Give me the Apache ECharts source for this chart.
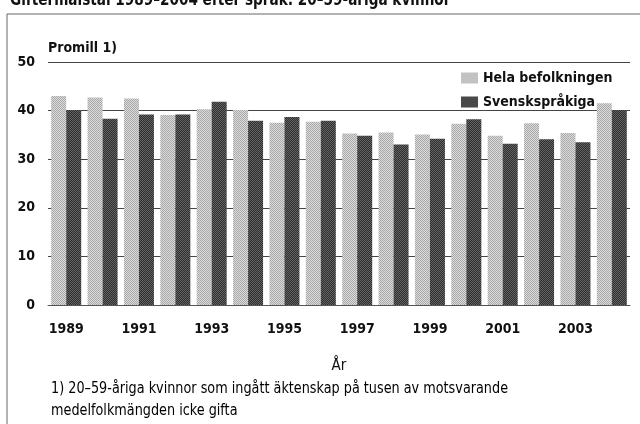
<!DOCTYPE html>
<html>
<head>
<meta charset="utf-8">
<script src="https://cdn.jsdelivr.net/npm/echarts@6/dist/echarts.min.js"></script>
<style>
  html, body { margin: 0; padding: 0; background: #fff; }
  #chart { width: 640px; height: 424px; }
</style>
</head>
<body>
<div id="chart"></div>
<script>
const years = ['1989', '1990', '1991', '1992', '1993', '1994', '1995', '1996',
  '1997', '1998', '1999', '2000', '2001', '2002', '2003', '2004']
const hela = [43.0, 42.7, 42.5, 39.1, 40.3, 40.1, 37.5, 37.7,
  35.3, 35.5, 35.1, 37.3, 34.8, 37.4, 35.4, 41.5]
const svensk = [40.1, 38.3, 39.2, 39.2, 41.8, 37.9, 38.7, 37.9,
  34.8, 33.0, 34.2, 38.2, 33.2, 34.1, 33.5, 40.1]
const yTicks = [0, 10, 20, 30, 40, 50]

const font = '"Liberation Sans Narrow", "DejaVu Sans Condensed", "Roboto", sans-serif'

// small checker textures to imitate the printed raster
const makePattern = (a, b) => {
  const c = document.createElement('canvas')
  c.width = 2
  c.height = 2
  const ctx = c.getContext('2d')
  ctx.fillStyle = a
  ctx.fillRect(0, 0, 2, 2)
  ctx.fillStyle = b
  ctx.fillRect(0, 0, 1, 1)
  ctx.fillRect(1, 1, 1, 1)
  return { image: c, repeat: 'repeat' }
}
const lightFill = makePattern('#dcdcdc', '#a8a8a8')
const darkFill = makePattern('#2e2e2e', '#646464')

const chart = echarts.init(document.getElementById('chart'))

chart.setOption({
  backgroundColor: '#fff',
  animation: false,
  legend: {
    orient: 'vertical',
    left: 456,
    top: 66,
    icon: 'rect',
    itemWidth: 17,
    itemHeight: 11,
    itemGap: 10,
    textStyle: { fontFamily: font, fontSize: 14, fontWeight: 'bold', color: '#111' },
    data: ['Hela befolkningen', 'Svenskspråkiga']
  },
  grid: { left: 48, right: 10, top: 62, bottom: 119 },
  xAxis: {
    type: 'category',
    data: years,
    name: 'År',
    nameLocation: 'middle',
    nameGap: 54,
    nameTextStyle: { fontFamily: font, fontSize: 15, color: '#111' },
    axisLine: { lineStyle: { color: '#555', width: 1 } },
    axisTick: { show: false },
    axisLabel: {
      interval: 1,
      margin: 17,
      fontFamily: font,
      fontSize: 14,
      fontWeight: 'bold',
      color: '#111'
    }
  },
  yAxis: {
    type: 'value',
    min: yTicks[0],
    max: yTicks[yTicks.length - 1],
    interval: 10,
    name: 'Promill 1)',
    nameLocation: 'end',
    nameGap: 7,
    nameTextStyle: { fontFamily: font, fontSize: 14, fontWeight: 'bold', color: '#111', align: 'left' },
    axisLine: { show: false },
    axisTick: { show: false },
    axisLabel: { margin: 13, fontFamily: font, fontSize: 14, fontWeight: 'bold', color: '#111' },
    splitLine: { lineStyle: { color: '#444', width: 1 } }
  },
  series: [
    {
      name: 'Hela befolkningen',
      type: 'bar',
      data: hela,
      barWidth: 15,
      barGap: '0%',
      itemStyle: { color: lightFill }
    },
    {
      name: 'Svenskspråkiga',
      type: 'bar',
      data: svensk,
      barWidth: 15,
      itemStyle: { color: darkFill }
    }
  ],
  graphic: [
    {
      type: 'rect',
      shape: { x: 7, y: 14, width: 640, height: 420 },
      style: { fill: 'none', stroke: '#666', lineWidth: 1 },
      silent: true
    },
    {
      // heading, cut off at the top edge like the scan
      type: 'text',
      x: 10,
      y: -9,
      scaleX: 0.84,
      style: {
        text: 'Giftermålstal 1989–2004 efter språk: 20–59-åriga kvinnor',
        fontFamily: font,
        fontSize: 18,
        fontWeight: 'bold',
        fill: '#111'
      }
    },
    {
      type: 'text',
      x: 51,
      y: 378,
      scaleX: 0.95,
      style: {
        text: '1) 20–59-åriga kvinnor som ingått äktenskap på tusen av motsvarande\nmedelfolkmängden icke gifta',
        fontFamily: font,
        fontSize: 15,
        lineHeight: 22,
        fill: '#000'
      }
    }
  ]
})

window.addEventListener('resize', () => {
  chart?.resize()
})
</script>
</body>
</html>
